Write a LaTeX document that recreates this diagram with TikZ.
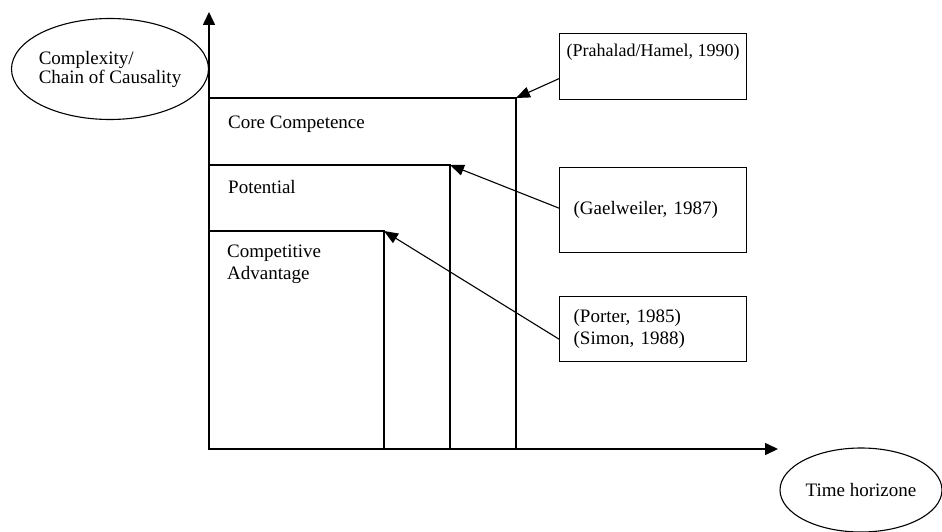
\documentclass[tikz,border=0pt]{standalone}
\usepackage{fontspec}
\setmainfont{Liberation Serif}
\usetikzlibrary{arrows.meta, positioning, shapes.geometric}

\begin{document}
\begin{tikzpicture}[
    x=1pt, y=-1pt,
    every node/.style={
        font=\fontsize{19pt}{22pt}\selectfont,
    },
    axis/.style={
        line width=1.6pt,
        -{Triangle[length=13pt, width=12pt]},
    },
    level/.style={
        line width=1.3pt,
    },
    levellabel/.style={
        anchor=west,
        align=left,
        inner sep=0pt,
    },
    source/.style={
        draw,
        line width=1.3pt,
        anchor=north west,
        align=left,
        minimum width=187pt,
        inner xsep=14pt,
    },
    pointer/.style={
        line width=1.1pt,
        -{Triangle[length=14pt, width=11pt]},
    },
    bubble/.style={
        ellipse,
        draw,
        line width=1.1pt,
        inner sep=0pt,
    }
]
    \useasboundingbox (0,0) rectangle (942,532);

    % Axes and corners
    \coordinate (origin) at (209,449);
    \coordinate (ytip) at (209,12);
    \coordinate (xtip) at (778,449);
    \coordinate (core) at (516,98);
    \coordinate (potential) at (450,165);
    \coordinate (advantage) at (384,231);

    % Levels
    \draw[level] (origin) rectangle (core);
    \draw[level] (origin) rectangle (potential);
    \draw[level] (origin) rectangle (advantage);
    \draw[axis] (origin) -- (ytip);
    \draw[axis] (origin) -- (xtip);

    % Level labels
    \node[levellabel] (corelabel) at (228,124) {Core Competence};
    \node[levellabel] (potentiallabel) at (228,187) {Potential};
    \node[levellabel] (advantagelabel) at (227,264) {Competitive\\Advantage};

    % Sources
    \node[source, inner ysep=0pt, text height=23pt, text depth=43pt, inner xsep=7pt,
        font=\fontsize{18pt}{22pt}\selectfont] (prahalad) at (559,33) {(Prahalad/Hamel, 1990)};
    \node[source, text width=159pt, minimum height=85pt] (gaelweiler) at (559,167) {(Gaelweiler, 1987)};
    \node[source, text width=159pt, minimum height=65pt] (porter) at (559,296) {(Porter, 1985)\\(Simon, 1988)};

    \draw[pointer] ([yshift=-12pt]prahalad.west) -- (core);
    \draw[pointer] ([yshift=2pt]gaelweiler.west) -- (potential);
    \draw[pointer] ([yshift=-10pt]porter.west) -- (advantage);

    % Axis names
    \node[bubble, minimum width=197pt, minimum height=101pt, align=left, inner xsep=-12pt,
        font=\fontsize{19pt}{19pt}\selectfont] (complexity) at (110,69) {Complexity/\\Chain of Causality};
    \node[bubble, minimum width=162pt, minimum height=84pt] (horizon) at (861,490) {Time horizone};
\end{tikzpicture}
\end{document}
